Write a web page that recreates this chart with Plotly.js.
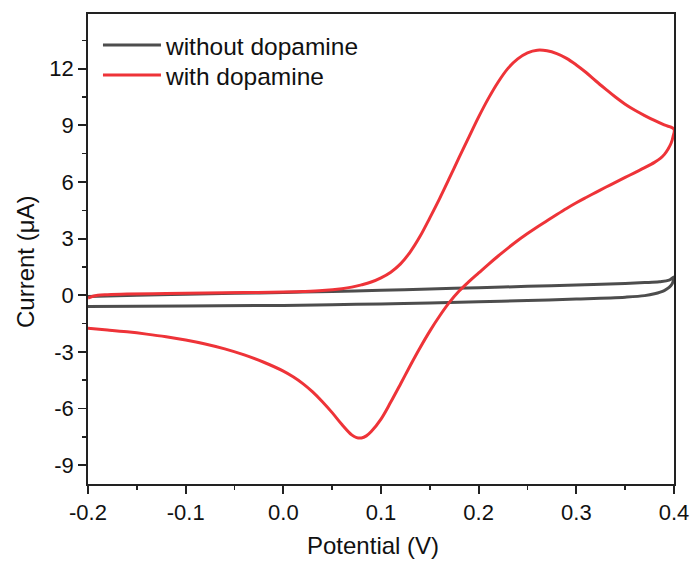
<!DOCTYPE html>
<html>
<head>
<meta charset="utf-8">
<script src="https://cdn.plot.ly/plotly-3.0.1.min.js"></script>
<style>html,body{margin:0;padding:0;background:#fff;}#chart{width:695px;height:565px;}</style>
</head>
<body>
<div id="chart"></div>
<script>
// Without dopamine: forward scan then reverse scan
const grayFwdX = [-0.2, -0.15, -0.1, -0.05, 0.0, 0.05, 0.1, 0.15, 0.2, 0.25, 0.3, 0.35, 0.37, 0.385, 0.395, 0.4];
const grayFwdY = [-0.06, 0.0, 0.05, 0.1, 0.15, 0.2, 0.26, 0.33, 0.4, 0.47, 0.54, 0.62, 0.67, 0.72, 0.8, 0.97];
const grayRevX = [0.3995, 0.398, 0.395, 0.39, 0.38, 0.37, 0.35, 0.3, 0.25, 0.2, 0.15, 0.1, 0.05, 0.0, -0.1, -0.2];
const grayRevY = [0.8, 0.6, 0.42, 0.25, 0.08, -0.02, -0.1, -0.2, -0.28, -0.35, -0.41, -0.46, -0.5, -0.54, -0.57, -0.6];

// With dopamine: forward scan then reverse scan
const redFwdX = [-0.2, -0.195, -0.19, -0.18, -0.16, -0.12, -0.08, -0.04, 0.0, 0.02, 0.04, 0.06, 0.07, 0.08, 0.09, 0.1, 0.11, 0.12, 0.13, 0.14, 0.15, 0.16, 0.17, 0.18, 0.19, 0.2, 0.21, 0.22, 0.23, 0.24, 0.25, 0.26, 0.27, 0.28, 0.29, 0.3, 0.31, 0.32, 0.33, 0.34, 0.35, 0.36, 0.37, 0.38, 0.39, 0.4];
const redFwdY = [-0.15, -0.05, 0.0, 0.03, 0.06, 0.09, 0.12, 0.14, 0.17, 0.2, 0.25, 0.35, 0.43, 0.55, 0.7, 0.92, 1.22, 1.66, 2.3, 3.12, 4.1, 5.12, 6.2, 7.3, 8.38, 9.45, 10.43, 11.3, 12.02, 12.52, 12.84, 12.98, 12.95, 12.8, 12.55, 12.2, 11.8, 11.35, 10.92, 10.5, 10.12, 9.8, 9.52, 9.26, 9.02, 8.8];
const redRevX = [0.399, 0.397, 0.394, 0.39, 0.386, 0.38, 0.37, 0.36, 0.35, 0.34, 0.33, 0.32, 0.31, 0.3, 0.29, 0.28, 0.27, 0.26, 0.25, 0.24, 0.23, 0.22, 0.21, 0.2, 0.19, 0.18, 0.17, 0.16, 0.15, 0.14, 0.13, 0.12, 0.11, 0.1, 0.09, 0.085, 0.08, 0.075, 0.07, 0.06, 0.05, 0.04, 0.03, 0.02, 0.01, 0.0, -0.02, -0.04, -0.06, -0.08, -0.1, -0.12, -0.14, -0.16, -0.18, -0.2];
const redRevY = [8.4, 8.05, 7.75, 7.45, 7.25, 7.04, 6.76, 6.5, 6.24, 5.98, 5.72, 5.45, 5.18, 4.9, 4.6, 4.28, 3.95, 3.62, 3.27, 2.9, 2.5, 2.08, 1.64, 1.18, 0.72, 0.22, -0.38, -1.1, -1.9, -2.78, -3.72, -4.7, -5.66, -6.56, -7.22, -7.45, -7.56, -7.54, -7.4, -6.85, -6.22, -5.64, -5.12, -4.68, -4.32, -4.02, -3.55, -3.16, -2.84, -2.58, -2.37, -2.2, -2.06, -1.94, -1.84, -1.75];

const seriesNames = ['without dopamine', 'with dopamine'];
const xTickVals = [-0.2, -0.1, 0.0, 0.1, 0.2, 0.3, 0.4];
const xTickText = ['-0.2', '-0.1', '0.0', '0.1', '0.2', '0.3', '0.4'];
const yTickVals = [-9, -6, -3, 0, 3, 6, 9, 12];
const yTickText = ['-9', '-6', '-3', '0', '3', '6', '9', '12'];
const xTitle = 'Potential (V)';
const yTitle = 'Current (μA)';

const FONT = 'Liberation Sans, Arial, Helvetica, sans-serif';

const traces = [
  {
    x: grayFwdX.concat(grayRevX), y: grayFwdY.concat(grayRevY),
    mode: 'lines', name: seriesNames[0], legend: 'legend',
    line: {color: '#4d4d4d', width: 3, shape: 'spline', smoothing: 1}
  },
  {
    x: redFwdX.concat(redRevX), y: redFwdY.concat(redRevY),
    mode: 'lines', name: seriesNames[1], legend: 'legend2',
    line: {color: '#ee3338', width: 3, shape: 'spline', smoothing: 1}
  }
];

const axisCommon = {
  showline: true, mirror: true, linecolor: '#222', linewidth: 1.8,
  ticks: 'outside', ticklen: 8, tickwidth: 1.8, tickcolor: '#222',
  showgrid: false, zeroline: false,
  tickfont: {family: FONT, size: 22, color: '#111'}
};

const legendCommon = {
  xanchor: 'left', yanchor: 'middle',
  bgcolor: 'rgba(0,0,0,0)', borderwidth: 0,
  font: {family: FONT, size: 24.5, color: '#111'},
  itemwidth: 58
};

const layout = {
  width: 695, height: 565,
  margin: {l: 88, r: 21, t: 14, b: 81},
  paper_bgcolor: '#fff', plot_bgcolor: '#fff',
  font: {family: FONT, color: '#111'},
  showlegend: true,
  legend: Object.assign({}, legendCommon, {x: 0.017, y: 0.934}),
  legend2: Object.assign({}, legendCommon, {x: 0.017, y: 0.870}),
  xaxis: Object.assign({}, axisCommon, {
    range: [-0.2, 0.4], tickmode: 'array', tickvals: xTickVals, ticktext: xTickText,
    minor: {dtick: 0.05, tick0: -0.2, ticks: 'outside', ticklen: 4, tickwidth: 1.5, tickcolor: '#222', showgrid: false}
  }),
  yaxis: Object.assign({}, axisCommon, {
    range: [-10, 14.9], tickmode: 'array', tickvals: yTickVals, ticktext: yTickText,
    minor: {dtick: 1.5, tick0: 0, ticks: 'outside', ticklen: 4, tickwidth: 1.5, tickcolor: '#222', showgrid: false}
  }),
  annotations: [
    {text: xTitle, xref: 'paper', yref: 'paper', x: 0.4863, y: -0.131,
     xanchor: 'center', yanchor: 'middle', showarrow: false,
     font: {family: FONT, size: 24, color: '#111'}},
    {text: yTitle, xref: 'paper', yref: 'paper', x: -0.1075, y: 0.4723, textangle: -90,
     xanchor: 'center', yanchor: 'middle', showarrow: false,
     font: {family: FONT, size: 24, color: '#111'}}
  ]
};

Plotly.newPlot('chart', traces, layout, {displayModeBar: false, staticPlot: true});
</script>
</body>
</html>
